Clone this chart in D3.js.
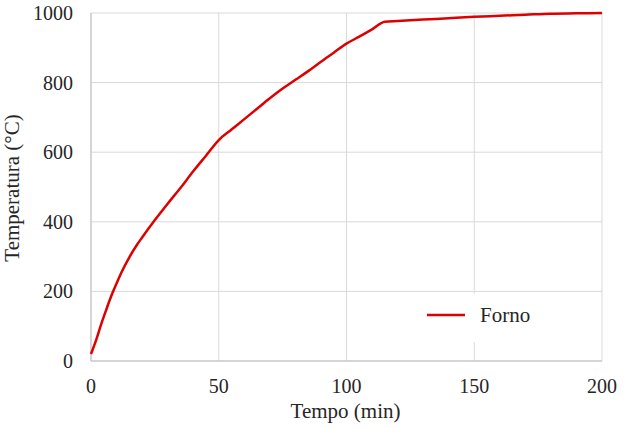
<!DOCTYPE html>
<html><head><meta charset="utf-8">
<script src="https://cdn.jsdelivr.net/npm/d3@7"></script>
</head><body style="margin:0">
<svg id="c" width="626" height="428"></svg>
<script>
const tempo = [0,2,4,6,8,10,12,15,18,20,25,30,35,40,45,50,55,60,65,70,75,80,85,90,95,100,105,110,115,120,130,140,150,160,170,180,190,200];
const temperatura = [20,60,106,148,188,223,256,298,334,355,405,452,497,545,590,635,665,695,725,755,783,808,833,860,886,912,932,953,975,977,981,985,989,992,995,998,999,1000];
const xTicks = [0,50,100,150,200];
const yTicks = [0,200,400,600,800,1000];
const seriesName = "Forno";

const svg = d3.select("#c");
const m = {l:91, r:24, t:13, b:67};
const W = 626, H = 428;
const x = d3.scaleLinear().domain([0,200]).range([m.l, W-m.r]);
const y = d3.scaleLinear().domain([0,1000]).range([H-m.b, m.t]);
const txt = "#262626";

svg.append("g").selectAll("line").data(yTicks).join("line")
  .attr("x1", x(0)).attr("x2", x(200)).attr("y1", d=>y(d)).attr("y2", d=>y(d))
  .attr("stroke", "#d9d9d9").attr("stroke-width", 1);
svg.append("g").selectAll("line").data(xTicks).join("line")
  .attr("y1", y(0)).attr("y2", y(1000)).attr("x1", d=>x(d)).attr("x2", d=>x(d))
  .attr("stroke", "#d9d9d9").attr("stroke-width", 1);
svg.append("line").attr("x1", x(0)).attr("x2", x(200)).attr("y1", y(0)).attr("y2", y(0)).attr("stroke", "#bfbfbf");
svg.append("line").attr("x1", x(0)).attr("x2", x(0)).attr("y1", y(0)).attr("y2", y(1000)).attr("stroke", "#bfbfbf");

svg.selectAll("text.yt").data(yTicks).join("text").attr("class","yt")
  .attr("x", 73).attr("y", d=>y(d)+7).attr("text-anchor","end")
  .style("font-family", '"Times New Roman"').style("font-size","20px").attr("fill", txt).text(d=>d);
svg.selectAll("text.xt").data(xTicks).join("text").attr("class","xt")
  .attr("x", d=>x(d)).attr("y", 393).attr("text-anchor","middle")
  .style("font-family", '"Times New Roman"').style("font-size","20px").attr("fill", txt).text(d=>d);

svg.append("text").attr("x", x(100)-1).attr("y", 418).attr("text-anchor","middle")
  .style("font-family", '"Times New Roman"').style("font-size","21px").attr("fill", txt).text("Tempo (min)");
svg.append("text").attr("transform", "translate(19,188) rotate(-90)").attr("text-anchor","middle")
  .style("font-family", '"Times New Roman"').style("font-size","21px").attr("fill", txt).text("Temperatura (°C)");

svg.append("rect").attr("x", 415).attr("y", 294).attr("width", 135).attr("height", 48).attr("fill", "#fff");

const line = d3.line().x((d,i)=>x(tempo[i])).y(d=>y(d)).curve(d3.curveMonotoneX);
svg.append("path").datum(temperatura).attr("d", line)
  .attr("fill","none").attr("stroke","#dd0000").attr("stroke-width",2.5).attr("stroke-linejoin","round");

svg.append("line").attr("x1", 427).attr("x2", 465).attr("y1", 315).attr("y2", 315)
  .attr("stroke","#dd0000").attr("stroke-width",2.5);
svg.append("text").attr("x", 480).attr("y", 322)
  .style("font-family", '"Times New Roman"').style("font-size","21px")
  .attr("fill", txt).text(seriesName);
</script>
</body></html>
